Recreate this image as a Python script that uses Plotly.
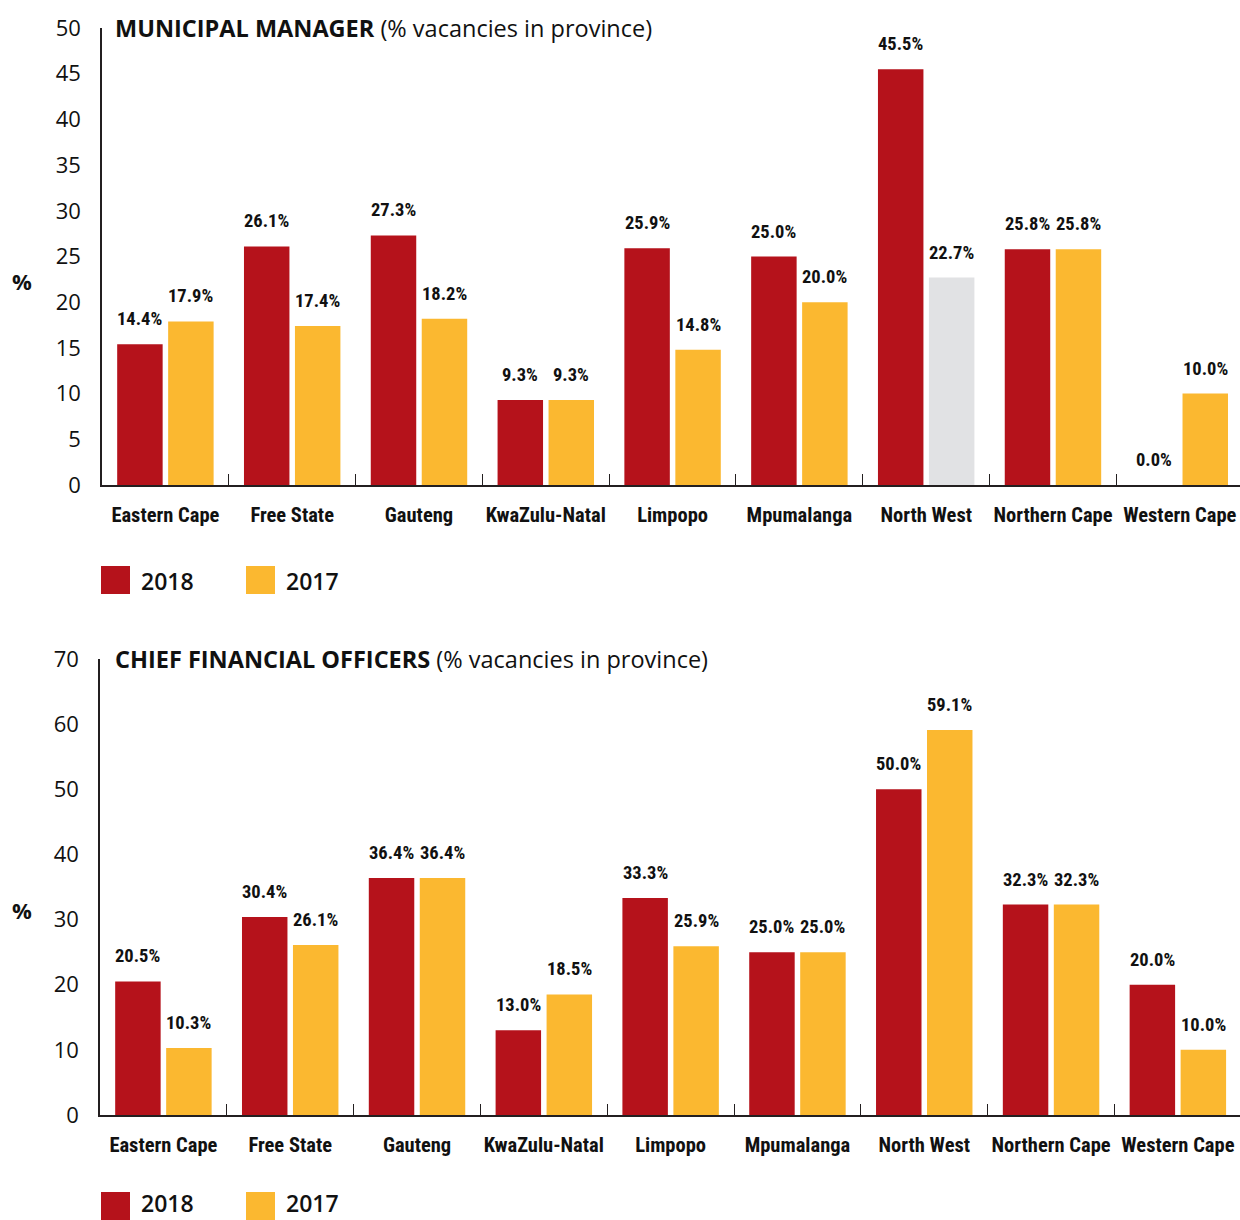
import plotly.graph_objects as go

# ---------------- data ----------------
provinces = ["Eastern Cape", "Free State", "Gauteng", "KwaZulu-Natal", "Limpopo",
             "Mpumalanga", "North West", "Northern Cape", "Western Cape"]

# Municipal manager (% vacancies in province) - bar heights as drawn, labels as printed
mm_2018 = [15.4, 26.1, 27.3, 9.3, 25.9, 25.0, 45.5, 25.8, 0.0]
mm_2017 = [17.9, 17.4, 18.2, 9.3, 14.8, 20.0, 22.7, 25.8, 10.0]
mm_2018_labels = ["14.4%", "26.1%", "27.3%", "9.3%", "25.9%", "25.0%", "45.5%", "25.8%", "0.0%"]
mm_2017_labels = ["17.9%", "17.4%", "18.2%", "9.3%", "14.8%", "20.0%", "22.7%", "25.8%", "10.0%"]

# Chief financial officers (% vacancies in province)
cfo_2018 = [20.5, 30.4, 36.4, 13.0, 33.3, 25.0, 50.0, 32.3, 20.0]
cfo_2017 = [10.3, 26.1, 36.4, 18.5, 25.9, 25.0, 59.1, 32.3, 10.0]
cfo_2018_labels = [f"{v:.1f}%" for v in cfo_2018]
cfo_2017_labels = [f"{v:.1f}%" for v in cfo_2017]

mm_ticks = [0, 5, 10, 15, 20, 25, 30, 35, 40, 45, 50]
cfo_ticks = [0, 10, 20, 30, 40, 50, 60, 70]

series_names = ["2018", "2017"]

# ---------------- style ----------------
W, H = 1240, 1220
RED = "#B5121B"
YELLOW = "#FBB830"
GRAY = "#E1E2E4"
INK = "#231F20"
NUM_FONT = "Open Sans, Noto Sans, sans-serif"
COND_FONT = "Roboto Condensed, Liberation Sans, sans-serif"
BARGAP = 0.196
BARGROUPGAP = 0.108


def px_x(p):
    return p / W


def px_y(p):
    return 1 - p / H


fig = go.Figure()

mm_2017_colors = [GRAY if p == "North West" else YELLOW for p in provinces]

fig.add_trace(go.Bar(x=provinces, y=mm_2018, name=series_names[0], marker_color=RED,
                     marker_line_width=0, xaxis="x", yaxis="y", showlegend=False))
fig.add_trace(go.Bar(x=provinces, y=mm_2017, name=series_names[1], marker_color=mm_2017_colors,
                     marker_line_width=0, xaxis="x", yaxis="y", showlegend=False))
fig.add_trace(go.Bar(x=provinces, y=cfo_2018, name=series_names[0], marker_color=RED,
                     marker_line_width=0, xaxis="x2", yaxis="y2", showlegend=False))
fig.add_trace(go.Bar(x=provinces, y=cfo_2017, name=series_names[1], marker_color=YELLOW,
                     marker_line_width=0, xaxis="x2", yaxis="y2", showlegend=False))

annotations = []
off = (1 - BARGAP) / 4
label_font = dict(family=COND_FONT, size=18.5, color="#111111", weight="bold")
for xref, yref, vals, labs, sign in [
    ("x", "y", mm_2018, mm_2018_labels, -1),
    ("x", "y", mm_2017, mm_2017_labels, 1),
    ("x2", "y2", cfo_2018, cfo_2018_labels, -1),
    ("x2", "y2", cfo_2017, cfo_2017_labels, 1),
]:
    for i, (v, t) in enumerate(zip(vals, labs)):
        annotations.append(dict(x=i + sign * off, y=v, xref=xref, yref=yref, text=t,
                                showarrow=False, xanchor="center", yanchor="bottom",
                                yshift=12, font=label_font))

# titles
title_font = dict(family=NUM_FONT, size=23.5, color="#111111")
annotations.append(dict(x=px_x(113), y=px_y(28), xref="paper", yref="paper",
                        text="<b>MUNICIPAL MANAGER</b> (% vacancies in province)",
                        showarrow=False, xanchor="left", yanchor="middle", font=title_font))
annotations.append(dict(x=px_x(113), y=px_y(659), xref="paper", yref="paper",
                        text="<b>CHIEF FINANCIAL OFFICERS</b> (% vacancies in province)",
                        showarrow=False, xanchor="left", yanchor="middle", font=title_font))
# % axis titles
for yy in (281, 910):
    annotations.append(dict(x=px_x(10), y=px_y(yy), xref="paper", yref="paper", text="<b>%</b>",
                            showarrow=False, xanchor="left", yanchor="middle",
                            font=dict(family=NUM_FONT, size=22, color="#111111")))

# legends (drawn)
shapes = []
for top, text_y in ((566, 581), (1192, 1203)):
    for k, (name, col, x0) in enumerate(zip(series_names, [RED, YELLOW], [101, 246])):
        shapes.append(dict(type="rect", xref="paper", yref="paper",
                           x0=px_x(x0), x1=px_x(x0 + 29), y0=px_y(top + 28), y1=px_y(top),
                           fillcolor=col, line_width=0))
        annotations.append(dict(x=px_x(x0 + 38), y=px_y(text_y), xref="paper", yref="paper",
                                text=name, showarrow=False, xanchor="left", yanchor="middle",
                                font=dict(family=NUM_FONT, size=23, color="#111111", weight=600)))

xaxis_common = dict(
    type="category", categoryorder="array", categoryarray=provinces,
    ticks="inside", tickson="boundaries", ticklen=11, tickwidth=1.3, tickcolor=INK,
    showline=True, linecolor=INK, linewidth=1.5, showgrid=False, zeroline=False,
    tickfont=dict(family=COND_FONT, size=20.5, color="#111111", weight="bold"),
    tickangle=0, automargin=False,
    ticklabelstandoff=11, layer="below traces", fixedrange=True,
)
yaxis_common = dict(
    showline=True, linecolor=INK, linewidth=1.5, showgrid=False, zeroline=False,
    ticks="", tickmode="array", automargin=False,
    tickfont=dict(family=NUM_FONT, size=22, color="#111111"),
    ticklabelstandoff=15, layer="below traces", fixedrange=True,
)

fig.update_layout(
    width=W, height=H,
    margin=dict(l=0, r=0, t=0, b=0),
    paper_bgcolor="white", plot_bgcolor="white",
    barmode="group", bargap=BARGAP, bargroupgap=BARGROUPGAP,
    xaxis=dict(domain=[px_x(102), 1], range=[-0.5, 8.475], anchor="y", **xaxis_common),
    yaxis=dict(domain=[px_y(485), px_y(28)], range=[0, 50], anchor="x",
               tickvals=mm_ticks, ticktext=[str(t) for t in mm_ticks], **yaxis_common),
    xaxis2=dict(domain=[px_x(100), 1], range=[-0.5, 8.49], anchor="y2", **xaxis_common),
    yaxis2=dict(domain=[px_y(1115), px_y(659)], range=[0, 70], anchor="x2",
                tickvals=cfo_ticks, ticktext=[str(t) for t in cfo_ticks], **yaxis_common),
    annotations=annotations,
    shapes=shapes,
    showlegend=False,
)

fig.write_html("out.html")
